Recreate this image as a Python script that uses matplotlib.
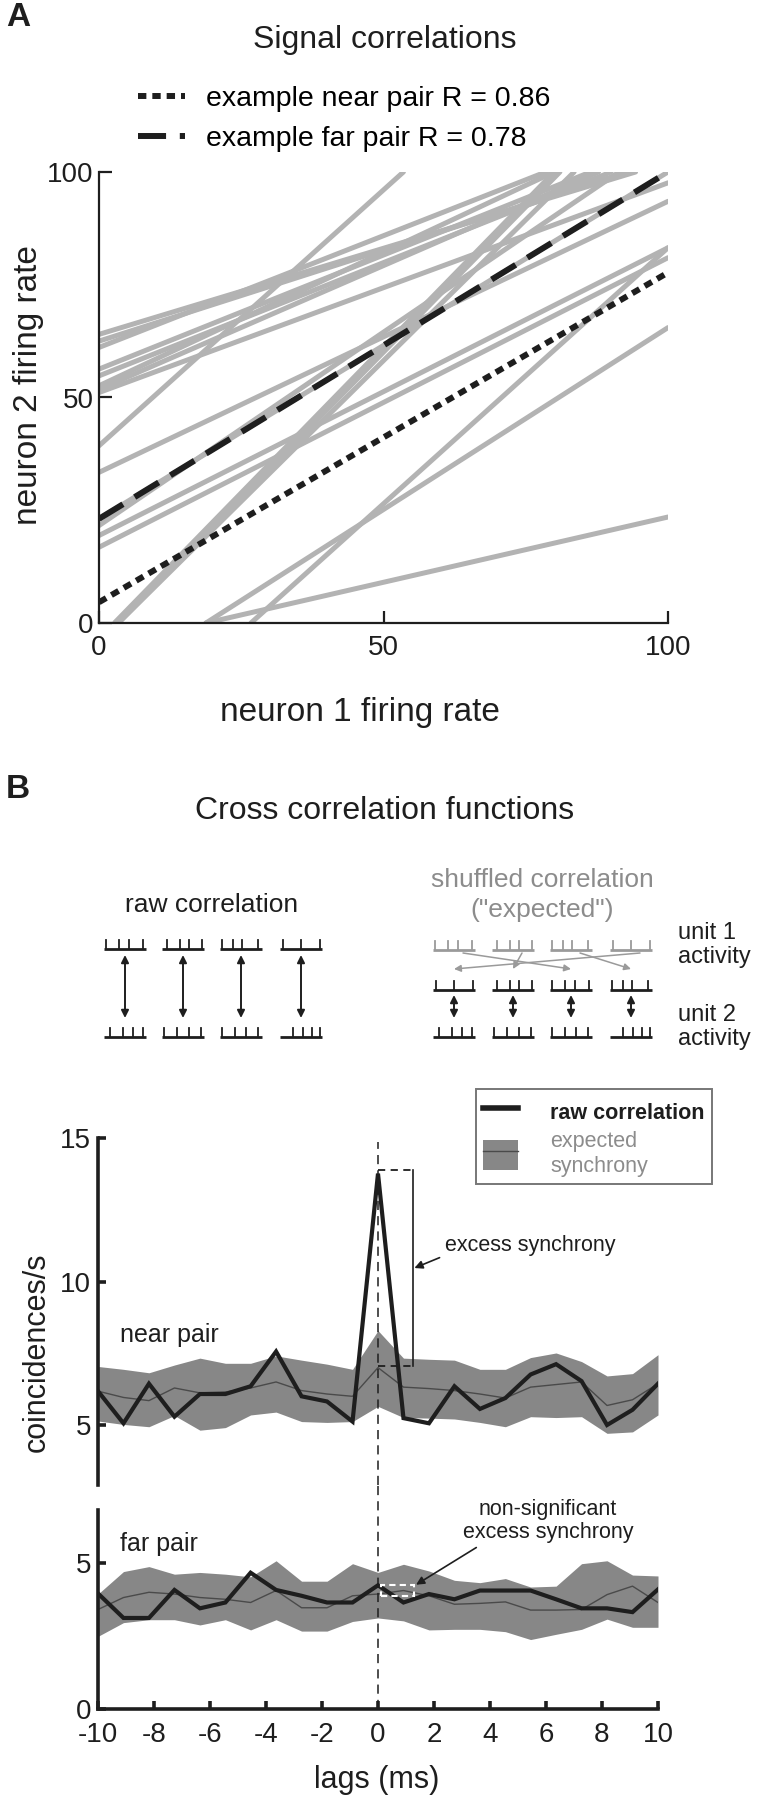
import matplotlib
matplotlib.use("Agg")
import matplotlib.pyplot as plt
from matplotlib.lines import Line2D
from matplotlib.patches import Patch, Rectangle

plt.rcParams['font.family'] = ['Liberation Sans', 'DejaVu Sans']
plt.rcParams['axes.unicode_minus'] = False

W, H = 758, 1800

# ---- panel A: regression lines of neuron pairs (start x, start y, end x, end y)
grey_x0 = [0, 0, 0, 0, 0, 0, 0, 0, 0, 0, 0, 0, 0, 0, 2.7, 3.4, 3.4, 18.8, 18.8, 26.7]
grey_y0 = [64, 62.5, 61.1, 56.3, 54.8, 52.6, 51.8, 51.1, 39.3, 33.4, 23.1, 21.6, 19.4, 16.8,
           0, 0, 0, 0, 0, 0]
grey_x1 = [94.3, 92.8, 78.5, 86.4, 90, 80, 87.8, 100, 53.5, 100, 100, 91.4, 100, 100,
           80, 83.5, 81, 100, 100, 100]
grey_y1 = [100, 100, 100, 100, 100, 100, 100, 97.6, 100, 93.5, 100, 100, 83.2, 81.0,
           100, 100, 100, 23.5, 65.5, 83.2]

near_fit = [4.6, 77.7]   # y at x = 0 and x = 100
far_fit = [23.1, 100.0]
fit_x = [0, 100]

# ---- panel B: cross correlograms
lags = [-10.0, -9.09, -8.18, -7.27, -6.36, -5.45, -4.55, -3.64, -2.73, -1.82, -0.91, 0.0,
        0.91, 1.82, 2.73, 3.64, 4.55, 5.45, 6.36, 7.27, 8.18, 9.09, 10.0]

near_raw = [6.18, 5.06, 6.44, 5.29, 6.08, 6.08, 6.35, 7.56, 6.0, 5.82, 5.12, 13.76,
            5.24, 5.06, 6.35, 5.56, 5.94, 6.76, 7.12, 6.53, 5.0, 5.53, 6.44]
near_exp = [6.18, 5.96, 5.85, 6.29, 6.12, 6.15, 6.29, 6.5, 6.2, 6.08, 6.0, 7.0,
            6.32, 6.27, 6.2, 6.08, 5.94, 6.32, 6.41, 6.5, 5.68, 5.88, 6.44]
near_hi = [7.04, 6.94, 6.82, 7.09, 7.33, 7.15, 7.15, 7.41, 7.26, 7.12, 6.94, 8.29,
           7.33, 7.29, 7.26, 6.94, 6.94, 7.35, 7.51, 7.21, 6.71, 6.79, 7.45]
near_lo = [5.14, 5.02, 4.94, 5.33, 4.82, 4.91, 5.35, 5.45, 5.12, 5.09, 5.12, 5.65,
           5.26, 5.24, 5.21, 5.09, 4.94, 5.29, 5.26, 5.29, 4.71, 4.76, 5.35]

far_raw = [3.96, 3.12, 3.12, 4.08, 3.45, 3.65, 4.67, 4.08, 3.88, 3.65, 3.65, 4.24,
           3.65, 3.94, 3.76, 4.06, 4.06, 4.06, 3.76, 3.45, 3.45, 3.32, 4.1]
far_exp = [3.41, 3.82, 4.0, 3.94, 3.82, 3.76, 3.65, 4.06, 3.47, 3.47, 3.88, 3.94,
           4.06, 3.88, 3.59, 3.62, 3.67, 3.39, 3.39, 3.41, 3.92, 4.21, 3.65]
far_hi = [3.94, 4.71, 4.88, 4.62, 4.68, 4.62, 4.53, 5.08, 4.38, 4.38, 4.98, 4.68,
          4.96, 4.73, 4.41, 4.33, 4.47, 4.18, 4.21, 4.98, 5.08, 4.59, 4.56]
far_lo = [2.49, 2.96, 3.06, 3.06, 2.88, 3.06, 2.71, 3.06, 2.67, 2.67, 3.0, 3.12,
          3.02, 2.71, 2.73, 2.73, 2.65, 2.38, 2.56, 2.73, 3.08, 2.8, 2.8]

# spike positions (fraction of train width) for the schematic
unit1_trains = [[0.05, 0.35, 0.6, 0.92], [0.12, 0.42, 0.65, 0.95],
                [0.04, 0.3, 0.52, 0.9], [0.06, 0.5, 0.95]]
unit2_trains = [[0.15, 0.45, 0.68, 0.92], [0.04, 0.36, 0.65, 0.92],
                [0.04, 0.36, 0.62, 0.9], [0.3, 0.55, 0.76, 0.96]]
shuffle_order = [3, 1, 0, 2]   # which unit 1 train lands in each slot

band_col = '#878787'
line_grey = '#b3b3b3'
ink = '#1e1e1e'


def fx(x):
    return x / W


def fy(y):
    return 1 - y / H


fig = plt.figure(figsize=(W / 100, H / 100), dpi=100)

# background axes in pixel coordinates for text and the schematic
bg = fig.add_axes([0, 0, 1, 1])
bg.set_xlim(0, W)
bg.set_ylim(H, 0)
bg.axis('off')
bg.patch.set_alpha(0)

# ================= panel A =================
axA = fig.add_axes([fx(99), fy(623), 569 / W, 451 / H])
for i in range(len(grey_x0)):
    axA.plot([grey_x0[i], grey_x1[i]], [grey_y0[i], grey_y1[i]], color=line_grey,
             lw=3.6, solid_capstyle='round', zorder=1)
near_style = (0, (1.4, 1.0))
far_style = (0, (4.7, 2.3))
axA.plot(fit_x, near_fit, color=ink, lw=4.3, ls=near_style, zorder=3,
         label='example near pair R = 0.86')
axA.plot(fit_x, far_fit, color=ink, lw=4.3, ls=far_style, zorder=3,
         label='example far pair R = 0.78')
axA.set_xlim(0, 100)
axA.set_ylim(0, 100)
for s in ['top', 'right']:
    axA.spines[s].set_visible(False)
for s in ['left', 'bottom']:
    axA.spines[s].set_linewidth(1.6)
    axA.spines[s].set_color(ink)
axA.set_xticks([0, 50, 100])
axA.set_yticks([0, 50, 100])
axA.tick_params(direction='in', length=9, width=1.6, labelsize=20, colors=ink)
axA.tick_params(axis='x', pad=9)
axA.tick_params(axis='y', pad=4)
axA.set_xlabel('neuron 1 firing rate', fontsize=24, color=ink)
axA.set_ylabel('neuron 2 firing rate', fontsize=24, color=ink)
axA.xaxis.set_label_coords((360 - 99) / 569, (623 - 697) / 451)
axA.yaxis.set_label_coords((44 - 99) / 569, (623 - 385) / 451)
axA.legend(loc='upper left', bbox_to_anchor=((138 - 99) / 569, (623 - 86) / 451),
           frameon=False, fontsize=20.5, handlelength=1.65, handletextpad=0.75,
           labelspacing=0.5, borderpad=0, borderaxespad=0)

bg.text(18, 17, 'A', fontsize=24, fontweight='bold', ha='center', va='center', color=ink)
bg.text(385, 40, 'Signal correlations', fontsize=23, ha='center', va='center', color=ink)

# ================= panel B schematic =================
bg.text(18, 790, 'B', fontsize=24, fontweight='bold', ha='center', va='center', color=ink)
bg.text(385, 811, 'Cross correlation functions', fontsize=23, ha='center', va='center',
        color=ink)
bg.text(212, 905, 'raw correlation', fontsize=19, ha='center', va='center', color=ink)
bg.text(542, 880, 'shuffled correlation', fontsize=19, ha='center', va='center',
        color='#8c8c8c')
bg.text(542, 910, '("expected")', fontsize=19, ha='center', va='center', color='#8c8c8c')
bg.text(678, 945, 'unit 1\nactivity', fontsize=17, ha='left', va='center', color=ink,
        linespacing=1.1)
bg.text(678, 1027, 'unit 2\nactivity', fontsize=17, ha='left', va='center', color=ink,
        linespacing=1.1)


def spike_train(x0, ybase, spikes, color):
    bg.plot([x0, x0 + 42], [ybase, ybase], color=color, lw=2, solid_capstyle='butt')
    for s in spikes:
        bg.plot([x0 + s * 42, x0 + s * 42], [ybase, ybase - 9], color=color, lw=1.3)


def double_arrow(x, y0, y1, color=ink):
    bg.annotate('', xy=(x, y1), xytext=(x, y0),
                arrowprops=dict(arrowstyle='<|-|>', color=color, lw=1.4,
                                mutation_scale=11, shrinkA=0, shrinkB=0))


raw_x = [104, 162, 220, 280]
for i, x0 in enumerate(raw_x):
    spike_train(x0, 949, unit1_trains[i], ink)
    spike_train(x0, 1037, unit2_trains[i], ink)
    double_arrow(x0 + 21, 955, 1018)

shuf_x = [433, 492, 550, 610]
for i, x0 in enumerate(shuf_x):
    spike_train(x0, 950, unit1_trains[i], '#9a9a9a')
    spike_train(x0, 990, unit1_trains[shuffle_order[i]], ink)
    spike_train(x0, 1037, unit2_trains[i], ink)
    double_arrow(x0 + 21, 995, 1018)
for slot, src in enumerate(shuffle_order):
    xs = shuf_x[src] + 30
    xe = shuf_x[slot] + 21
    bg.annotate('', xy=(xe, 969), xytext=(xs, 953),
                arrowprops=dict(arrowstyle='-|>', color='#9a9a9a', lw=1.1,
                                mutation_scale=10, shrinkA=0, shrinkB=0))

# ================= near pair =================
axN = fig.add_axes([fx(98), fy(1485), 560 / W, 347 / H])
axN.fill_between(lags, near_lo, near_hi, color=band_col, lw=0, zorder=1)
axN.plot(lags, near_exp, color='#4a4a4a', lw=1.0, zorder=2)
axN.plot(lags, near_raw, color=ink, lw=3, zorder=3, solid_joinstyle='miter')
axN.set_xlim(-10, 10)
axN.set_ylim(2.91, 15)
axN.patch.set_alpha(0)
for s in ['top', 'right', 'bottom']:
    axN.spines[s].set_visible(False)
axN.spines['left'].set_linewidth(2.6)
axN.spines['left'].set_color(ink)
axN.set_xticks([])
axN.set_yticks([5, 10, 15])
axN.tick_params(direction='in', length=6, width=2.6, labelsize=20, colors=ink, pad=5)
axN.plot([0, 0], [2.91, 14.85], color=ink, lw=1.1, ls=(0, (6, 4)), zorder=4)
# bracket marking the excess synchrony
axN.plot([0, 1.26], [13.88, 13.88], color=ink, lw=1.3, ls=(0, (4, 3)), zorder=4)
axN.plot([0, 1.26], [7.04, 7.04], color=ink, lw=1.3, ls=(0, (4, 3)), zorder=4)
axN.plot([1.26, 1.26], [7.04, 13.88], color=ink, lw=1.2, zorder=4)
axN.annotate('excess synchrony', xy=(1.3, 10.47), xytext=(2.39, 11.25), fontsize=15.5,
             ha='left', va='center', color=ink,
             arrowprops=dict(arrowstyle='-|>', color=ink, lw=1.2, mutation_scale=12,
                             shrinkA=2, shrinkB=0, relpos=(0.02, 0.1)))
axN.text(-9.2, 8.12, 'near pair', fontsize=18, ha='left', va='center', color=ink)

handles = [Line2D([0], [0], color=ink, lw=4),
           (Patch(facecolor=band_col, lw=0), Line2D([0], [0], color='#4a4a4a', lw=1))]
leg = axN.legend(handles, ['raw correlation', 'expected\nsynchrony'],
                 loc='upper right', bbox_to_anchor=((712 - 98) / 560, (1485 - 1089) / 347),
                 borderaxespad=0, fontsize=15.5, handlelength=1.6, handleheight=1.8,
                 handletextpad=1.5, borderpad=0.35, labelspacing=0.2, fancybox=False,
                 framealpha=1, edgecolor='#777777')
leg.get_frame().set_linewidth(1.4)
leg.get_texts()[0].set_fontweight('bold')
leg.get_texts()[0].set_color(ink)
leg.get_texts()[1].set_color('#8c8c8c')

# ================= far pair =================
axF = fig.add_axes([fx(98), fy(1709), 560 / W, 199 / H])
axF.fill_between(lags, far_lo, far_hi, color=band_col, lw=0, zorder=1)
axF.plot(lags, far_exp, color='#4a4a4a', lw=1.0, zorder=2)
axF.plot(lags, far_raw, color=ink, lw=3, zorder=3, solid_joinstyle='miter')
axF.set_xlim(-10, 10)
axF.set_ylim(0, 6.82)
axF.patch.set_alpha(0)
for s in ['top', 'right']:
    axF.spines[s].set_visible(False)
for s in ['left', 'bottom']:
    axF.spines[s].set_linewidth(2.6)
    axF.spines[s].set_color(ink)
axF.set_xticks(range(-10, 11, 2))
axF.set_yticks([0, 5])
axF.tick_params(direction='in', length=6, width=2.6, labelsize=20, colors=ink)
axF.tick_params(axis='x', pad=9)
axF.tick_params(axis='y', pad=5)
axF.plot([0, 0], [0, 7.7], color=ink, lw=1.1, ls=(0, (6, 4)), zorder=4, clip_on=False)
axF.add_patch(Rectangle((0.12, 3.88), 1.18, 0.38, fill=False, ec='white', lw=1.5,
                        ls=(0, (3, 2)), zorder=5))
axF.annotate('non-significant\nexcess synchrony', xy=(1.36, 4.26), xytext=(6.07, 6.44),
             fontsize=15.5, ha='center', va='center', color=ink, linespacing=1.15,
             annotation_clip=False,
             arrowprops=dict(arrowstyle='-|>', color=ink, lw=1.2, mutation_scale=12,
                             shrinkA=2, shrinkB=0, relpos=(0.12, 0.0)))
axF.text(-9.2, 5.65, 'far pair', fontsize=18, ha='left', va='center', color=ink)

bg.text(377, 1780, 'lags (ms)', fontsize=22, ha='center', va='center', color=ink)
bg.text(37, 1352, 'coincidences/s', fontsize=22, ha='center', va='center', rotation=90,
        color=ink)

fig.savefig('out.png', dpi=100)
